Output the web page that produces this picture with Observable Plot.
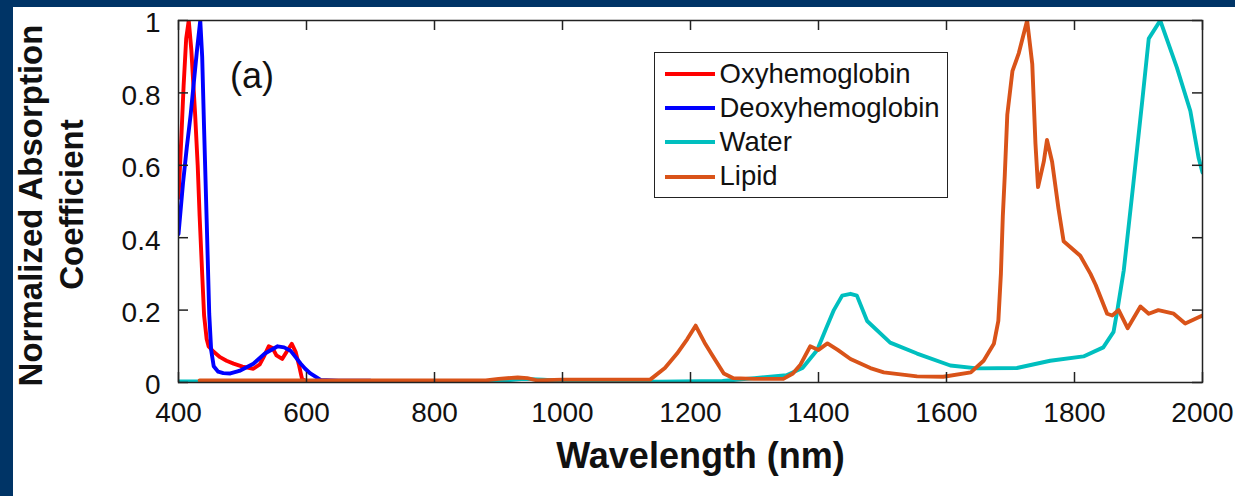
<!DOCTYPE html>
<html><head><meta charset="utf-8">
<script src="https://cdn.jsdelivr.net/npm/d3@7"></script>
<script src="https://cdn.jsdelivr.net/npm/@observablehq/plot@0.6"></script>
<style>
html,body{margin:0;padding:0;background:#fff;}
#wrap{position:relative;width:1235px;height:496px;overflow:hidden;background:#fff;font-family:"Liberation Sans",Arial,sans-serif;color:#111;}
.band{position:absolute;background:#003466;z-index:5;}
#chart{position:absolute;left:0;top:0;}
#tag{position:absolute;left:230px;top:58px;font-size:36px;line-height:36px;}
#legend{position:absolute;left:654px;top:52px;width:294px;height:146px;box-sizing:border-box;border:1.5px solid #222;background:#fff;padding-top:3.5px;}
.row{display:flex;align-items:center;height:34.3px;}
.sw{margin-left:9.5px;width:50px;height:4px;margin-right:5px;}
.lab{font-size:27.5px;line-height:34.3px;white-space:nowrap;}
</style></head>
<body>
<div id="wrap">
  <div class="band" style="left:0;top:0;width:1235px;height:7px;"></div>
  <div class="band" style="left:0;top:0;width:13px;height:496px;"></div>
  <div id="chart"></div>
  <div id="tag">(a)</div>
  <div id="legend"></div>
</div>
<script>
const seriesNames = ["Oxyhemoglobin", "Deoxyhemoglobin", "Water", "Lipid"];
const seriesColors = ["#ff0000", "#0000ff", "#00bfbf", "#d95319"];
const xTicks = [400, 600, 800, 1000, 1200, 1400, 1600, 1800, 2000];
const yTicks = [0, 0.2, 0.4, 0.6, 0.8, 1];

const oxyWavelength = [400, 404, 408, 412, 416, 420, 423, 426, 430, 433, 437, 440, 444, 447, 455, 465, 475, 486, 500, 517, 527, 533, 541, 547, 553, 562, 569, 577, 583, 588, 593, 600];
const oxyValue      = [0.51, 0.66, 0.82, 0.95, 1.0, 0.92, 0.83, 0.74, 0.60, 0.46, 0.30, 0.185, 0.12, 0.10, 0.085, 0.07, 0.06, 0.052, 0.044, 0.038, 0.05, 0.07, 0.10, 0.095, 0.075, 0.065, 0.085, 0.107, 0.085, 0.05, 0.01, 0.003];

const deoxyWavelength = [400, 407, 413, 419, 424, 429, 434, 437, 440, 444, 448, 451, 455, 462, 470, 481, 495, 517, 535, 555, 565, 575, 583, 591, 598, 606, 622, 650, 700];
const deoxyValue      = [0.41, 0.55, 0.65, 0.74, 0.83, 0.92, 1.0, 0.9, 0.70, 0.45, 0.19, 0.09, 0.045, 0.03, 0.026, 0.025, 0.032, 0.052, 0.08, 0.10, 0.097, 0.088, 0.07, 0.052, 0.038, 0.025, 0.007, 0.005, 0.005];

const waterWavelength = [400, 430, 600, 900, 940, 970, 1000, 1100, 1150, 1250, 1300, 1350, 1375, 1398, 1412, 1424, 1437, 1450, 1460, 1476, 1512, 1554, 1606, 1648, 1710, 1762, 1814, 1845, 1861, 1867, 1877, 1892, 1906, 1916, 1934, 1960, 1981, 1994, 2000];
const waterValue      = [0.003, 0.003, 0.003, 0.004, 0.01, 0.008, 0.004, 0.003, 0.002, 0.004, 0.012, 0.02, 0.04, 0.09, 0.15, 0.2, 0.24, 0.245, 0.24, 0.17, 0.11, 0.08, 0.047, 0.039, 0.04, 0.06, 0.072, 0.097, 0.14, 0.2, 0.31, 0.55, 0.78, 0.95, 1.0, 0.87, 0.75, 0.62, 0.58];

const lipidWavelength = [433, 600, 880, 900, 930, 945, 960, 1000, 1100, 1137, 1160, 1179, 1195, 1208, 1222, 1236, 1252, 1267, 1300, 1345, 1360, 1372, 1387, 1400, 1414, 1430, 1450, 1481, 1502, 1554, 1595, 1638, 1658, 1674, 1681, 1685, 1688, 1691, 1695, 1703, 1713, 1726, 1734, 1739, 1743, 1752, 1757, 1765, 1775, 1783, 1809, 1825, 1833, 1851, 1859, 1869, 1883, 1903, 1916, 1931, 1955, 1973, 1994, 2000];
const lipidValue      = [0.006, 0.006, 0.006, 0.01, 0.014, 0.012, 0.006, 0.008, 0.008, 0.008, 0.04, 0.08, 0.12, 0.157, 0.11, 0.07, 0.025, 0.012, 0.01, 0.01, 0.025, 0.05, 0.1, 0.09, 0.108, 0.09, 0.065, 0.04, 0.028, 0.017, 0.016, 0.028, 0.06, 0.107, 0.17, 0.3, 0.46, 0.57, 0.74, 0.86, 0.91, 1.0, 0.88, 0.66, 0.54, 0.61, 0.67, 0.61, 0.48, 0.39, 0.35, 0.30, 0.27, 0.19, 0.185, 0.2, 0.15, 0.21, 0.19, 0.2, 0.19, 0.163, 0.18, 0.185];

const seriesData = [
  [oxyWavelength, oxyValue, "Oxyhemoglobin"],
  [deoxyWavelength, deoxyValue, "Deoxyhemoglobin"],
  [waterWavelength, waterValue, "Water"],
  [lipidWavelength, lipidValue, "Lipid"]
];
const rows = [];
for (const [w, v, name] of seriesData) w.forEach((x, i) => rows.push({wavelength: x, value: v[i], series: name}));

const tickStyle = {stroke: "#222", strokeWidth: 1.5};
const chart = Plot.plot({
  width: 1235, height: 496,
  marginLeft: 178, marginTop: 20, marginRight: 33, marginBottom: 114,
  style: {background: "none", fontFamily: "Liberation Sans, Arial, sans-serif", color: "#111", overflow: "visible"},
  x: {domain: [400, 2000], label: null},
  y: {domain: [0, 1], label: null},
  color: {domain: seriesNames, range: seriesColors},
  marks: [
    Plot.lineY(rows, {x: "wavelength", y: "value", z: "series", stroke: "series", strokeWidth: 3.9, clip: true}),
    Plot.frame({stroke: "#222", strokeWidth: 1.5}),
    Plot.ruleX(xTicks, {...tickStyle, insetTop: 352}),
    Plot.ruleX(xTicks, {...tickStyle, insetBottom: 352}),
    Plot.ruleY(yTicks, {...tickStyle, insetRight: 1014}),
    Plot.ruleY(yTicks, {...tickStyle, insetLeft: 1014}),
    Plot.axisX({ticks: xTicks, tickSize: 0, tickPadding: 20, fontSize: 28, label: null, tickFormat: d => String(d)}),
    Plot.axisY({ticks: yTicks, tickSize: 0, tickPadding: 18, fontSize: 28, label: null, tickFormat: d => String(d), dy: 3}),
    Plot.text(["Wavelength (nm)"], {text: d => d, frameAnchor: "bottom", lineAnchor: "bottom", dx: 10, dy: 85, fontSize: 36, fontWeight: "bold"}),
    Plot.text(["Normalized Absorption"], {text: d => d, frameAnchor: "left", textAnchor: "middle", rotate: -90, dx: -147, dy: 4, fontSize: 33, fontWeight: "bold"}),
    Plot.text(["Coefficient"], {text: d => d, frameAnchor: "left", textAnchor: "middle", rotate: -90, dx: -106, dy: 3, fontSize: 33, fontWeight: "bold"})
  ]
});
document.getElementById("chart").appendChild(chart);

const legend = document.getElementById("legend");
seriesNames.forEach((name, i) => {
  const row = document.createElement("div");
  row.className = "row";
  const sw = document.createElement("div");
  sw.className = "sw";
  sw.style.background = seriesColors[i];
  const lab = document.createElement("div");
  lab.className = "lab";
  lab.textContent = name;
  row.appendChild(sw); row.appendChild(lab);
  legend.appendChild(row);
});
</script>
</body></html>
